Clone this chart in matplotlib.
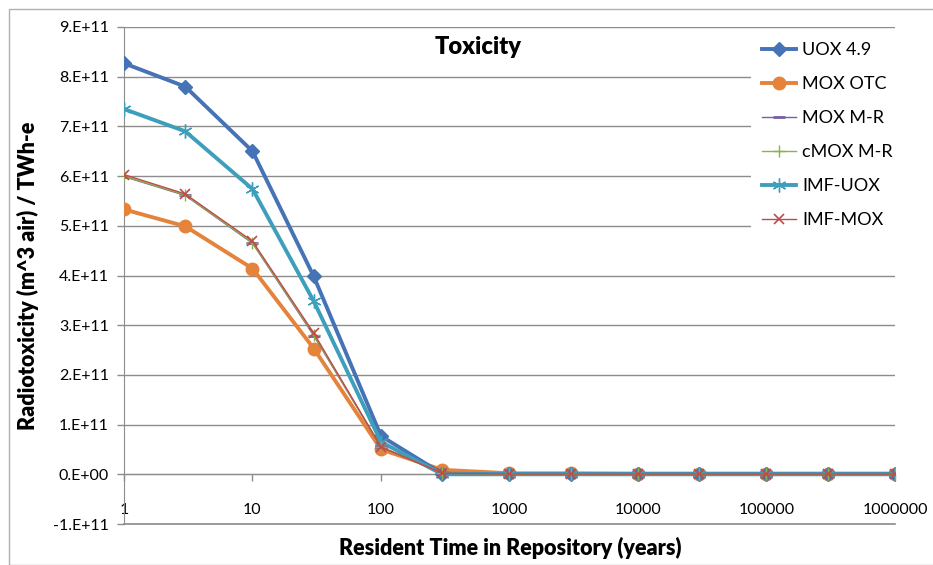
import numpy as np
import matplotlib.pyplot as plt
from matplotlib.ticker import FuncFormatter, FixedLocator
from matplotlib.patches import Rectangle

plt.rcParams['font.family'] = ['Lato', 'DejaVu Sans']

# resident time (years)
years = [1, 3, 10, 30, 100, 300, 1000, 3000, 10000, 30000, 100000, 300000, 1000000]

# radiotoxicity, units of 1e11 m^3 air / TWh-e
uox49 = [8.27, 7.80, 6.50, 3.98, 0.77, 0.01, 0.005, 0.005, 0.005, 0.005, 0.005, 0.005, 0.005]
mox_otc = [5.33, 4.99, 4.14, 2.53, 0.50, 0.09, 0.02, 0.02, 0.015, 0.015, 0.015, 0.015, 0.015]
mox_mr = [5.99, 5.61, 4.65, 2.79, 0.55, 0.02, 0.005, 0.005, 0.005, 0.005, 0.005, 0.005, 0.005]
cmox_mr = [6.00, 5.62, 4.66, 2.81, 0.55, 0.02, 0.005, 0.005, 0.005, 0.005, 0.005, 0.005, 0.005]
imf_uox = [7.35, 6.90, 5.74, 3.48, 0.65, 0.0, 0.0, 0.0, 0.0, 0.0, 0.0, 0.0, 0.0]
imf_mox = [6.03, 5.64, 4.69, 2.84, 0.55, 0.02, 0.005, 0.005, 0.005, 0.005, 0.005, 0.005, 0.005]

scale = 1e11
grid_col = '#8c8c8c'

fig = plt.figure(figsize=(9.33, 5.65), dpi=100)
ax = fig.add_axes([124/933, 1 - 524/565, (895 - 124)/933, (524 - 27)/565])

x = np.array(years)
ax.plot(x, np.array(uox49)*scale, color='#4573B5', lw=2.8, marker='D', ms=7, label='UOX 4.9', zorder=6)
ax.plot(x, np.array(mox_otc)*scale, color='#E5833A', lw=2.8, marker='o', ms=9, label='MOX OTC', zorder=5)
ax.plot(x, np.array(mox_mr)*scale, color='#7A5FA3', lw=1.0, marker='_', ms=8, mew=2, label='MOX M-R', zorder=7)
ax.plot(x, np.array(cmox_mr)*scale, color='#8CB347', lw=1.0, marker='+', ms=8, mew=1, label='cMOX M-R', zorder=8)
ax.plot(x, np.array(imf_uox)*scale, color='#3E9FBC', lw=2.8, marker=(6, 2, 0), ms=10, mew=1, label='IMF-UOX', zorder=6)
ax.plot(x, np.array(imf_mox)*scale, color='#BE4B48', lw=1.0, marker='x', ms=7, mew=1.2, label='IMF-MOX', zorder=9)

ax.set_xscale('log')
ax.set_xlim(1, 1e6)
ax.set_ylim(-1e11, 9e11)
ax.xaxis.set_major_locator(FixedLocator([10**k for k in range(7)]))
ax.xaxis.set_minor_locator(FixedLocator([]))
ax.xaxis.set_major_formatter(FuncFormatter(lambda v, p: '%d' % round(v)))
ax.set_yticks(np.arange(-1, 10) * scale)
ax.yaxis.set_major_formatter(FuncFormatter(lambda v, p: '%d.E%+03d' % (round(v/scale), 11) if round(v/scale) != 0 else '0.E+00'))

ax.yaxis.grid(True, color=grid_col, lw=1.0)
ax.set_axisbelow(True)
for s in ['top', 'right']:
    ax.spines[s].set_visible(False)
ax.spines['left'].set_color(grid_col)
ax.spines['bottom'].set_color(grid_col)
ax.spines['bottom'].set_position(('data', 0))
ax.tick_params(axis='both', colors=grid_col, labelcolor='black', labelsize=11.5, length=5, width=1)
ax.tick_params(axis='x', direction='out', pad=16)
ax.tick_params(axis='y', pad=6)
ax.axhline(-1e11, color=grid_col, lw=1.2, clip_on=False)

fig.text(478/933, 1 - 47/565, 'Toxicity', ha='center', va='center',
         fontsize=17, fontweight='heavy')
fig.text(510/933, 1 - 548/565, 'Resident Time in Repository (years)', ha='center', va='center',
         fontsize=15.5, fontweight='heavy')
fig.text(28/933, 1 - 276/565, 'Radiotoxicity (m^3 air) / TWh-e', ha='center', va='center',
         rotation=90, fontsize=15.5, fontweight='heavy')

leg = ax.legend(loc='upper left', bbox_to_anchor=(751/933, 1 - 31/565), bbox_transform=fig.transFigure,
                frameon=True, facecolor='white', edgecolor='none', framealpha=1, fancybox=False,
                fontsize=13, labelspacing=1.0, handlelength=1.9, handletextpad=0.35,
                borderpad=0.6, borderaxespad=0)
leg.set_zorder(20)

fig.patches.append(Rectangle((9/933, 0), 1, 1 - 9/565, transform=fig.transFigure,
                             fill=False, edgecolor='#b0b0b0', lw=1.0))

fig.savefig('out.png', dpi=100)
